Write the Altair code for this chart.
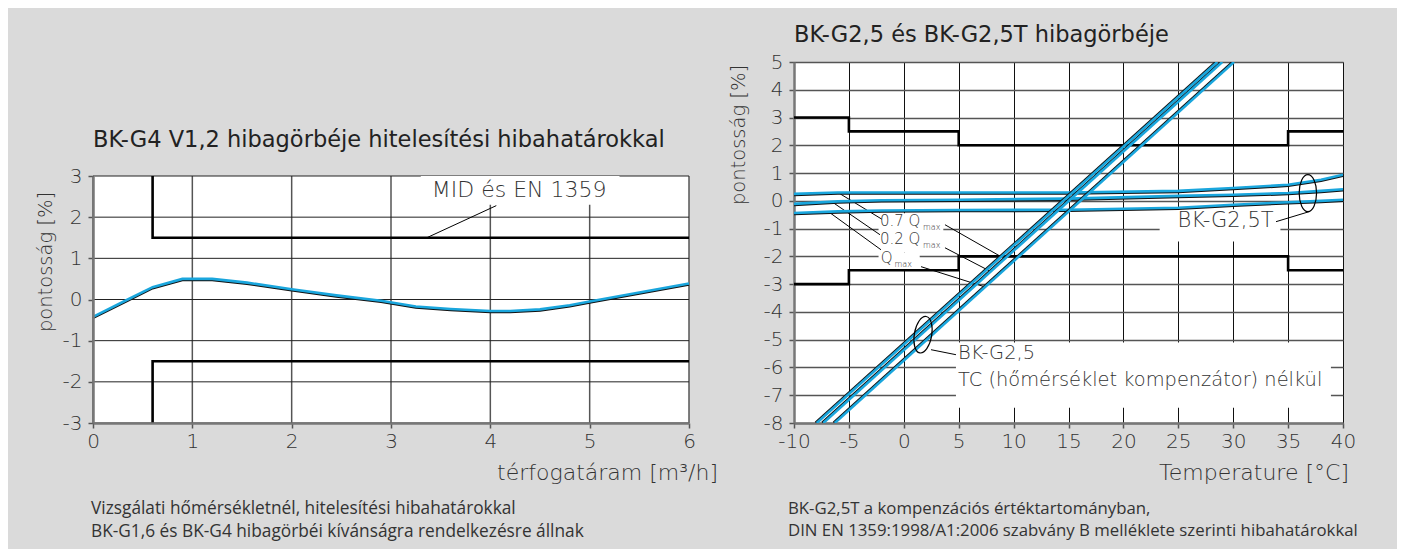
import altair as alt
import pandas as pd

FONT = "DejaVu Sans"
CAPFONT = "Open Sans"
BLUE = "#1aa6dd"
TXT = "#333333"
LIGHT = 200

# ---------------- Left chart data (BK-G4) ----------------
flow_x = [0, 0.35, 0.6, 0.9, 1.2, 1.55, 2.0, 2.45, 2.9, 3.25, 3.6, 4.0, 4.2, 4.5, 4.8, 5.0, 5.5, 6.0]
flow_err = [-0.42, 0.0, 0.3, 0.5, 0.5, 0.41, 0.25, 0.1, -0.03, -0.17, -0.23, -0.28, -0.28, -0.24, -0.14, -0.05, 0.17, 0.39]

mid_limit_x = [0.6, 0.6, 6.0]
mid_upper = [3.0, 1.5, 1.5]
mid_lower = [-3.0, -1.5, -1.5]

left_ticks_x = [0, 1, 2, 3, 4, 5, 6]
left_ticks_y = [-3, -2, -1, 0, 1, 2, 3]

# ---------------- Right chart data (BK-G2,5 / BK-G2,5T) ----------------
temp_limit_x = [-10, -5, 5, 35, 40]
temp_upper = [3.0, 2.5, 2.0, 2.5, 2.5]
temp_lower = [-3.0, -2.5, -2.0, -2.5, -2.5]

tc_names = ["0.7 Qmax", "0.2 Qmax", "Qmax"]
tc_x_bottom = [-7.93, -7.33, -6.29]   # x where error = -8 %
tc_x_top = [28.55, 29.0, 30.07]       # x where error = +5 %
tc_err_ends = [-8, 5]

comp_x = [-10, -6, -2, 5, 15, 25, 30, 35, 38, 40]
comp_07 = [0.25, 0.30, 0.30, 0.30, 0.30, 0.36, 0.46, 0.58, 0.76, 0.94]
comp_02 = [-0.11, -0.02, 0.02, 0.04, 0.08, 0.18, 0.22, 0.28, 0.36, 0.42]
comp_10 = [-0.44, -0.38, -0.35, -0.33, -0.32, -0.25, -0.14, -0.05, 0.0, 0.04]

right_ticks_x = [-10, -5, 0, 5, 10, 15, 20, 25, 30, 35, 40]
right_ticks_y = list(range(-8, 6))

# ---------------- helpers ----------------
def axis_cfg(values, grid, grid_color="#555555", grid_width=1.0, **kw):
    return alt.Axis(values=values, title=None, grid=grid, gridColor=grid_color, gridWidth=grid_width,
                    domainColor="#777777", domainWidth=2.5, tickColor="#555555", tickSize=5, tickWidth=1.5,
                    labelFont=FONT, labelFontSize=20, labelFontWeight=LIGHT, labelColor=TXT,
                    labelFlush=False, labelExpr="'' + datum.value", **kw)


def ptext(txt, px, py, size, align="left", angle=0, weight=LIGHT, color=TXT, font=FONT):
    return alt.Chart(pd.DataFrame({"t": [txt]})).mark_text(
        align=align, baseline="middle", fontSize=size, font=font, fontWeight=weight,
        color=color, angle=angle
    ).encode(x=alt.value(px), y=alt.value(py), text="t:N")


# ================= LEFT CHART =================
LW, LH_TOTAL, LH = 596, 361, 247
lxs = alt.Scale(domain=[0, 6], nice=False, zero=False)
lys = alt.Scale(domain=[-3, 3], nice=False, zero=False, range=[LH_TOTAL, LH_TOTAL - LH])
lax = axis_cfg(left_ticks_x, False, labelPadding=3, zindex=1)
lay = axis_cfg(left_ticks_y, False, labelPadding=6, zindex=1)


def LX(f):
    return alt.X(f, type="quantitative", scale=lxs, axis=lax)


def LY(f):
    return alt.Y(f, type="quantitative", scale=lys, axis=lay)


lplot = pd.DataFrame({"x": [0.0], "x2": [6.0], "y": [-3.0], "y2": [3.0]})
l_plot = alt.Chart(lplot).mark_rect(color="white").encode(x=LX("x"), x2="x2", y=LY("y"), y2="y2")

lgv = pd.DataFrame({"x": left_ticks_x, "y": [-3] * 7, "y2": [3] * 7})
l_gv = alt.Chart(lgv).mark_rule(color="#555555", strokeWidth=1.5).encode(x=LX("x"), y=LY("y"), y2="y2")
lgh = pd.DataFrame({"y": left_ticks_y, "x": [0] * 7, "x2": [6] * 7})
l_gh = alt.Chart(lgh).mark_rule(color="#222222", strokeWidth=1).encode(y=LY("y"), x=LX("x"), x2="x2")

lbox = pd.DataFrame({"x": [3.3], "x2": [5.3], "y": [2.3], "y2": [3.0]})
l_box = alt.Chart(lbox).mark_rect(color="white").encode(x=LX("x"), x2="x2", y=LY("y"), y2="y2")

llim = pd.DataFrame({
    "x": mid_limit_x + mid_limit_x,
    "y": mid_upper + mid_lower,
    "s": ["u"] * 3 + ["l"] * 3,
    "i": [0, 1, 2] * 2,
})
l_lim = alt.Chart(llim).mark_line(color="black", strokeWidth=2.6).encode(
    x=LX("x"), y=LY("y"), detail="s:N", order="i:Q")

lcurve = pd.DataFrame({"x": flow_x, "y": flow_err, "i": list(range(len(flow_x)))})
l_base_curve = alt.Chart(lcurve).encode(x=LX("x"), y=LY("y"), order="i:Q")
l_edge = l_base_curve.mark_line(color="#111111", strokeWidth=2.2, yOffset=1.2)
l_core = l_base_curve.mark_line(color=BLUE, strokeWidth=2.6)

llead = pd.DataFrame({"x": [4.06], "y": [2.28], "x2": [3.36], "y2": [1.5]})
l_lead = alt.Chart(llead).mark_rule(color="black", strokeWidth=1).encode(x=LX("x"), y=LY("y"), x2="x2", y2="y2")

lann = pd.DataFrame({"x": [4.29], "y": [2.67], "t": ["MID és EN 1359"]})
l_ann = alt.Chart(lann).mark_text(font=FONT, fontSize=22, fontWeight=LIGHT, color=TXT, align="center",
                                  baseline="middle").encode(x=LX("x"), y=LY("y"), text="t:N")

OFF = LH_TOTAL - LH  # plot top inside the left group
left = alt.layer(
    l_plot, l_gv, l_gh, l_box, l_lim, l_edge, l_core, l_lead, l_ann,
    ptext("BK-G4 V1,2 hibagörbéje hitelesítési hibahatárokkal", 0, OFF - 36, 22.5, weight=400, color="#222222"),
    ptext("pontosság [%]", -47, OFF + 86, 19.5, align="center", angle=270),
    ptext("térfogatáram [m³/h]", 625, OFF + 297, 22, align="right"),
    ptext("Vizsgálati hőmérsékletnél, hitelesítési hibahatárokkal", -2, OFF + 333, 17.3, weight=400, font=CAPFONT),
    ptext("BK-G1,6 és BK-G4 hibagörbéi kívánságra rendelkezésre állnak", -2, OFF + 356, 17.3, weight=400, font=CAPFONT),
).properties(width=LW, height=LH_TOTAL,
             view=alt.ViewBackground(fill="transparent", stroke="transparent"))

# ================= RIGHT CHART =================
RW, RH = 549, 361
rxs = alt.Scale(domain=[-10, 40], nice=False, zero=False)
rys = alt.Scale(domain=[-8, 5], nice=False, zero=False)
rax = axis_cfg(right_ticks_x, True, "#111111", 1, labelPadding=3)
ray = axis_cfg(right_ticks_y, True, "#555555", 1.5, labelPadding=6)


def RX(f):
    return alt.X(f, type="quantitative", scale=rxs, axis=rax)


def RY(f):
    return alt.Y(f, type="quantitative", scale=rys, axis=ray)


rbox = pd.DataFrame({
    "x": [-2.3, -2.3, 23.3, 4.75],
    "x2": [3.6, 1.45, 34.3, 38.9],
    "y": [-0.45, -1.85, -0.3, -5.1],
    "y2": [-1.85, -2.5, -1.46, -7.45],
})
r_box = alt.Chart(rbox).mark_rect(color="white").encode(x=RX("x"), x2="x2", y=RY("y"), y2="y2")

rlim = pd.DataFrame({
    "x": temp_limit_x + temp_limit_x,
    "y": temp_upper + temp_lower,
    "s": ["u"] * 5 + ["l"] * 5,
    "i": list(range(5)) * 2,
})
r_lim = alt.Chart(rlim).mark_line(color="black", strokeWidth=2.6, interpolate="step-after").encode(
    x=RX("x"), y=RY("y"), detail="s:N", order="i:Q")

comp_rows = []
for name, vals in zip(tc_names, [comp_07, comp_02, comp_10]):
    for i, (xv, yv) in enumerate(zip(comp_x, vals)):
        comp_rows.append({"x": xv, "y": yv, "s": name, "i": i})
r_comp_base = alt.Chart(pd.DataFrame(comp_rows)).encode(x=RX("x"), y=RY("y"), detail="s:N", order="i:Q")
r_comp_edge = r_comp_base.mark_line(color="#111111", strokeWidth=2.2, yOffset=1.2, clip=True)
r_comp_core = r_comp_base.mark_line(color=BLUE, strokeWidth=2.6, clip=True)

tc_rows = []
for name, xb, xt in zip(tc_names, tc_x_bottom, tc_x_top):
    tc_rows.append({"x": xb, "y": tc_err_ends[0], "s": name, "i": 0})
    tc_rows.append({"x": xt, "y": tc_err_ends[1], "s": name, "i": 1})
r_tc_base = alt.Chart(pd.DataFrame(tc_rows)).encode(x=RX("x"), y=RY("y"), detail="s:N", order="i:Q")
r_tc_edge = r_tc_base.mark_line(color="#111111", strokeWidth=2.2, xOffset=-1.2, yOffset=-0.4, clip=True)
r_tc_core = r_tc_base.mark_line(color=BLUE, strokeWidth=2.6, clip=True)

rlead = pd.DataFrame({
    "x": [-5.79, -6.6, -6.9, 3.75, 3.75, 1.57, 33.9, 2.48],
    "y": [0.25, -0.02, -0.38, -0.86, -1.69, -2.37, -0.75, -5.36],
    "x2": [-2.0, -2.17, -2.08, 8.85, 7.94, 7.4, 37.0, 4.75],
    "y2": [-0.66, -1.22, -1.76, -2.01, -2.55, -3.1, -0.38, -5.54],
})
r_lead = alt.Chart(rlead).mark_rule(color="black", strokeWidth=1).encode(x=RX("x"), y=RY("y"), x2="x2", y2="y2")

ELLIPSE = "M0,-1A0.47,1,0,1,1,0,1A0.47,1,0,1,1,0,-1Z"
rell = pd.DataFrame({"x": [36.8, 1.75], "y": [0.28, -4.82], "a": [0, 10]})
r_ell = alt.Chart(rell).mark_point(shape=ELLIPSE, size=1369, filled=False, color="black",
                                   strokeWidth=1.2, opacity=1).encode(
    x=RX("x"), y=RY("y"), angle=alt.Angle("a:Q", scale=None))

rlab = pd.DataFrame({
    "x": [-2.17, -2.17, -2.1, 4.94, 4.94],
    "y": [-0.72, -1.37, -2.05, -5.47, -6.44],
    "t": ["0.7 Q", "0.2 Q", "Q", "BK-G2,5", "TC (hőmérséklet kompenzátor) nélkül"],
    "fs": [15, 15, 15, 19.4, 19.4],
})
r_lab = alt.Chart(rlab).mark_text(font=FONT, fontWeight=LIGHT, color=TXT, align="left", baseline="middle").encode(
    x=RX("x"), y=RY("y"), text="t:N", size=alt.Size("fs:Q", scale=None, legend=None))

rsub = pd.DataFrame({"x": [1.75, 1.75, -0.85], "y": [-0.97, -1.62, -2.30], "t": ["max", "max", "max"]})
r_sub = alt.Chart(rsub).mark_text(font=FONT, fontWeight=LIGHT, fontSize=8, color=TXT, align="left",
                                  baseline="middle").encode(x=RX("x"), y=RY("y"), text="t:N")

rt = pd.DataFrame({"x": [29.3], "y": [-0.72], "t": ["BK-G2,5T"]})
r_t = alt.Chart(rt).mark_text(font=FONT, fontWeight=LIGHT, fontSize=21, color=TXT, align="center",
                              baseline="middle").encode(x=RX("x"), y=RY("y"), text="t:N")

right = alt.layer(
    r_box, r_lead, r_lim, r_comp_edge, r_comp_core, r_tc_edge, r_tc_core, r_ell, r_lab, r_sub, r_t,
    ptext("BK-G2,5 és BK-G2,5T hibagörbéje", 0, -27, 22.5, weight=400, color="#222222"),
    ptext("pontosság [%]", -55, 73, 19.5, align="center", angle=270),
    ptext("Temperature [°C]", 555, 411, 22, align="right"),
    ptext("BK-G2,5T a kompenzációs értéktartományban,", -6, 447, 16.8, weight=400, font=CAPFONT),
    ptext("DIN EN 1359:1998/A1:2006 szabvány B melléklete szerinti hibahatárokkal", -6, 469, 16.8, weight=400, font=CAPFONT),
).properties(width=RW, height=RH)

chart = alt.hconcat(left, right, spacing=9).properties(
    background="#dadada",
    padding={"left": 27, "top": 15, "right": 38, "bottom": 8},
).configure_view(stroke="#555555", strokeWidth=1, fill="white")

chart.save("out.html", embed_options={"renderer": "svg", "actions": False})
